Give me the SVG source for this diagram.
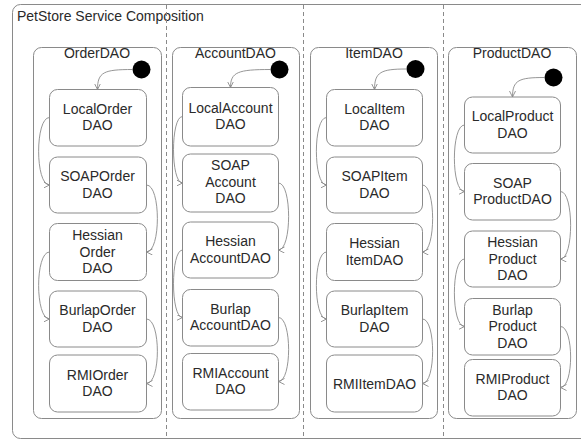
<svg xmlns="http://www.w3.org/2000/svg" width="581" height="440" viewBox="0 0 581 440">
  <style>
    .frame { fill: #ffffff; stroke: #8a8a8a; stroke-width: 1; }
    .comp { fill: #ffffff; stroke: #8a8a8a; stroke-width: 1; }
    .state { fill: #ffffff; stroke: #8a8a8a; stroke-width: 1; }
    .divider { stroke: #8a8a8a; stroke-width: 1; stroke-dasharray: 4 3; fill: none; }
    .init { fill: #000000; }
    .edge { fill: none; stroke: #8a8a8a; stroke-width: 0.9; marker-end: url(#open); }
    text { font-family: "Liberation Sans", Arial, sans-serif; font-size: 14px; fill: #2a2a2a; }
    .c { text-anchor: middle; }
  </style>
  <defs>
    <marker id="open" markerWidth="8" markerHeight="8" refX="6" refY="3" orient="auto" markerUnits="userSpaceOnUse">
      <path d="M0,0 L6,3 L0,6" fill="none" stroke="#8a8a8a" stroke-width="0.9"/>
    </marker>
  </defs>

  <!-- outer composition frame -->
  <g id="composition">
    <rect class="frame" x="12.5" y="4.5" width="620" height="434" rx="8"/>
    <text x="17" y="21">PetStore Service Composition</text>
    <line class="divider" x1="166.5" y1="5" x2="166.5" y2="438"/>
    <line class="divider" x1="303.5" y1="5" x2="303.5" y2="438"/>
    <line class="divider" x1="443.5" y1="5" x2="443.5" y2="438"/>
  </g>

  <!-- OrderDAO region -->
  <g id="OrderDAO">
    <rect class="comp" x="33.5" y="47.5" width="128" height="371" rx="8"/>
    <text class="c" x="97" y="58">OrderDAO</text>
    <circle id="OrderDAO-initial" class="init" cx="141.5" cy="69.5" r="9"/>
  </g>
  <g id="LocalOrderDAO"><rect class="state" x="49.5" y="89.5" width="97" height="56.5" rx="8"/>
    <text class="c" x="97.5" y="113.75">LocalOrder</text><text class="c" x="97.5" y="130.25">DAO</text></g>
  <g id="SOAPOrderDAO"><rect class="state" x="49.5" y="157" width="97" height="56" rx="8"/>
    <text class="c" x="97.5" y="181.25">SOAPOrder</text><text class="c" x="97.5" y="197.75">DAO</text></g>
  <g id="HessianOrderDAO"><rect class="state" x="49.5" y="223.5" width="97" height="57" rx="8"/>
    <text class="c" x="97.5" y="240">Hessian</text><text class="c" x="97.5" y="256.5">Order</text><text class="c" x="97.5" y="273">DAO</text></g>
  <g id="BurlapOrderDAO"><rect class="state" x="49.5" y="291" width="97" height="56" rx="8"/>
    <text class="c" x="97.5" y="315.25">BurlapOrder</text><text class="c" x="97.5" y="331.75">DAO</text></g>
  <g id="RMIOrderDAO"><rect class="state" x="49.5" y="355" width="97" height="57" rx="8"/>
    <text class="c" x="97.5" y="379.75">RMIOrder</text><text class="c" x="97.5" y="396.25">DAO</text></g>

  <!-- AccountDAO region -->
  <g id="AccountDAO">
    <rect class="comp" x="172.5" y="47.5" width="127" height="371" rx="8"/>
    <text class="c" x="235.5" y="58">AccountDAO</text>
    <circle id="AccountDAO-initial" class="init" cx="279.5" cy="69.5" r="9"/>
  </g>
  <g id="LocalAccountDAO"><rect class="state" x="182.5" y="87.5" width="96" height="58.5" rx="8"/>
    <text class="c" x="230.5" y="112.75">LocalAccount</text><text class="c" x="230.5" y="129.25">DAO</text></g>
  <g id="SOAPAccountDAO"><rect class="state" x="182.5" y="154" width="96" height="58" rx="8"/>
    <text class="c" x="230.5" y="170">SOAP</text><text class="c" x="230.5" y="186.5">Account</text><text class="c" x="230.5" y="203">DAO</text></g>
  <g id="HessianAccountDAO"><rect class="state" x="182.5" y="222" width="96" height="56" rx="8"/>
    <text class="c" x="230.5" y="246.25">Hessian</text><text class="c" x="230.5" y="262.75">AccountDAO</text></g>
  <g id="BurlapAccountDAO"><rect class="state" x="182.5" y="289.5" width="96" height="56.5" rx="8"/>
    <text class="c" x="230.5" y="313.75">Burlap</text><text class="c" x="230.5" y="330.25">AccountDAO</text></g>
  <g id="RMIAccountDAO"><rect class="state" x="182.5" y="353.5" width="96" height="56.5" rx="8"/>
    <text class="c" x="230.5" y="377.75">RMIAccount</text><text class="c" x="230.5" y="394.25">DAO</text></g>

  <!-- ItemDAO region -->
  <g id="ItemDAO">
    <rect class="comp" x="310.5" y="47.5" width="127" height="371" rx="8"/>
    <text class="c" x="374" y="58">ItemDAO</text>
    <circle id="ItemDAO-initial" class="init" cx="415.5" cy="69" r="9"/>
  </g>
  <g id="LocalItemDAO"><rect class="state" x="326.5" y="89.5" width="96" height="56.5" rx="8"/>
    <text class="c" x="374.5" y="113.75">LocalItem</text><text class="c" x="374.5" y="130.25">DAO</text></g>
  <g id="SOAPItemDAO"><rect class="state" x="326.5" y="157" width="96" height="56" rx="8"/>
    <text class="c" x="374.5" y="181.25">SOAPItem</text><text class="c" x="374.5" y="197.75">DAO</text></g>
  <g id="HessianItemDAO"><rect class="state" x="326.5" y="223.5" width="96" height="57" rx="8"/>
    <text class="c" x="374.5" y="248.25">Hessian</text><text class="c" x="374.5" y="264.75">ItemDAO</text></g>
  <g id="BurlapItemDAO"><rect class="state" x="326.5" y="291" width="96" height="56" rx="8"/>
    <text class="c" x="374.5" y="315.25">BurlapItem</text><text class="c" x="374.5" y="331.75">DAO</text></g>
  <g id="RMIItemDAO"><rect class="state" x="326.5" y="355" width="96" height="57" rx="8"/>
    <text class="c" x="374.5" y="388.5">RMIItemDAO</text></g>

  <!-- ProductDAO region -->
  <g id="ProductDAO">
    <rect class="comp" x="448.5" y="47.5" width="128" height="371" rx="8"/>
    <text class="c" x="512" y="58">ProductDAO</text>
    <circle id="ProductDAO-initial" class="init" cx="553.5" cy="77.5" r="9"/>
  </g>
  <g id="LocalProductDAO"><rect class="state" x="464.5" y="97" width="96" height="56" rx="8"/>
    <text class="c" x="512.5" y="121.25">LocalProduct</text><text class="c" x="512.5" y="137.75">DAO</text></g>
  <g id="SOAPProductDAO"><rect class="state" x="464.5" y="163.5" width="96" height="56.5" rx="8"/>
    <text class="c" x="512.5" y="187.75">SOAP</text><text class="c" x="512.5" y="204.25">ProductDAO</text></g>
  <g id="HessianProductDAO"><rect class="state" x="464.5" y="231" width="96" height="56" rx="8"/>
    <text class="c" x="512.5" y="247">Hessian</text><text class="c" x="512.5" y="263.5">Product</text><text class="c" x="512.5" y="280">DAO</text></g>
  <g id="BurlapProductDAO"><rect class="state" x="464.5" y="298.5" width="96" height="56.5" rx="8"/>
    <text class="c" x="512.5" y="314.5">Burlap</text><text class="c" x="512.5" y="331">Product</text><text class="c" x="512.5" y="347.5">DAO</text></g>
  <g id="RMIProductDAO"><rect class="state" x="464.5" y="359.5" width="96" height="56.5" rx="8"/>
    <text class="c" x="512.5" y="383.75">RMIProduct</text><text class="c" x="512.5" y="400.25">DAO</text></g>

  <!-- transitions -->
  <g id="connectors">
    <!-- OrderDAO -->
    <path class="edge" d="M132.5,69.5 C104,69.5 97.5,72 97.5,89.5"/>
    <path class="edge" d="M49.5,117.5 C35,117.5 35,185 49.5,185"/>
    <path class="edge" d="M146.5,185 C161,185 161,252 146.5,252"/>
    <path class="edge" d="M49.5,252 C35,252 35,319 49.5,319"/>
    <path class="edge" d="M146.5,319 C161,319 161,383.5 146.5,383.5"/>
    <!-- AccountDAO -->
    <path class="edge" d="M270.5,69.5 C238,69.5 230.5,72 230.5,87.5"/>
    <path class="edge" d="M182.5,116.5 C170.5,116.5 170.5,183 182.5,183"/>
    <path class="edge" d="M278.5,183 C292,183 292,250 278.5,250"/>
    <path class="edge" d="M182.5,250 C170.5,250 170.5,317.5 182.5,317.5"/>
    <path class="edge" d="M278.5,317.5 C292,317.5 292,381.5 278.5,381.5"/>
    <!-- ItemDAO -->
    <path class="edge" d="M406.5,69 C381,69 374.5,72 374.5,89.5"/>
    <path class="edge" d="M326.5,117.5 C313,117.5 313,185 326.5,185"/>
    <path class="edge" d="M422.5,185 C436,185 436,252 422.5,252"/>
    <path class="edge" d="M326.5,252 C313,252 313,319 326.5,319"/>
    <path class="edge" d="M422.5,319 C436,319 436,383.5 422.5,383.5"/>
    <!-- ProductDAO -->
    <path class="edge" d="M544.5,77.5 C519,77.5 512.5,80 512.5,97"/>
    <path class="edge" d="M464.5,125 C451,125 451,191.5 464.5,191.5"/>
    <path class="edge" d="M560.5,191.5 C574,191.5 574,259 560.5,259"/>
    <path class="edge" d="M464.5,259 C451,259 451,326.5 464.5,326.5"/>
    <path class="edge" d="M560.5,326.5 C574,326.5 574,387.5 560.5,387.5"/>
  </g>
</svg>
